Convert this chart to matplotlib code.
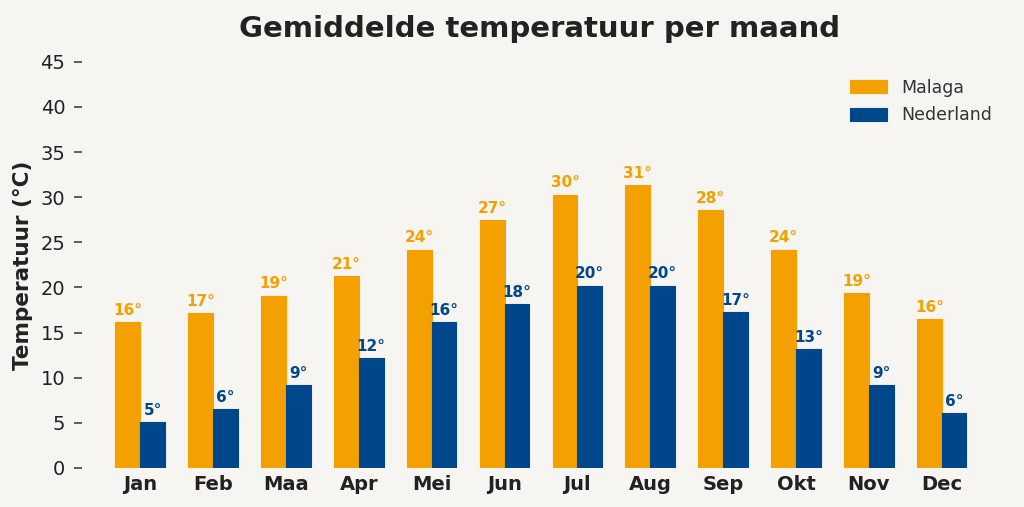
import matplotlib
matplotlib.use("Agg")
import matplotlib.pyplot as plt
import numpy as np

plt.rcParams["font.family"] = ["DejaVu Sans"]

months = ["Jan", "Feb", "Maa", "Apr", "Mei", "Jun", "Jul", "Aug", "Sep", "Okt", "Nov", "Dec"]
malaga = [16.2, 17.2, 19.1, 21.3, 24.2, 27.5, 30.3, 31.3, 28.6, 24.2, 19.4, 16.5]
nederland = [5.1, 6.5, 9.2, 12.2, 16.2, 18.2, 20.2, 20.2, 17.3, 13.2, 9.2, 6.1]
series_names = ["Malaga", "Nederland"]
yticks = [0, 5, 10, 15, 20, 25, 30, 35, 40, 45]

c_mal = "#F4A000"
c_ned = "#00468B"
bg = "#F7F5F1"
txt = "#222222"

fig = plt.figure(figsize=(10.24, 5.07), dpi=100, facecolor=bg)
ax = fig.add_axes([0.080, 0.077, 0.893, 0.801], facecolor=bg)

x = np.arange(len(months))
w = 0.34
b1 = ax.bar(x - w / 2, malaga, w, color=c_mal, label=series_names[0],
            edgecolor=c_mal, linewidth=0.8, joinstyle="round")
b2 = ax.bar(x + w / 2, nederland, w, color=c_ned, label=series_names[1],
            edgecolor=c_ned, linewidth=0.8, joinstyle="round")

for bars, vals, col in ((b1, malaga, c_mal), (b2, nederland, c_ned)):
    for r, v in zip(bars, vals):
        ax.annotate(f"{int(v)}°", (r.get_x() + r.get_width() / 2, v),
                    xytext=(0, 3), textcoords="offset points",
                    ha="center", va="bottom", fontsize=11, fontweight="bold", color=col)

ax.set_xlim(-0.8, 11.75)
ax.set_ylim(0, 45)
ax.set_yticks(yticks)
ax.set_yticklabels([str(t) for t in yticks])
ax.set_xticks(x)
ax.set_xticklabels(months, fontsize=14, fontweight="bold", color=txt)
ax.tick_params(axis="x", length=0, pad=5)
ax.tick_params(axis="y", length=6, width=1.2, color="#444444", labelsize=14, labelcolor=txt, pad=6)
for s in ax.spines.values():
    s.set_visible(False)

ax.set_ylabel("Temperatuur (°C)", fontsize=15.5, fontweight="bold", color=txt, labelpad=5)
ax.set_title("Gemiddelde temperatuur per maand", fontsize=21, fontweight="bold", color=txt, pad=18)

leg = ax.legend(loc="upper right", frameon=False, fontsize=12.5, handlelength=2.1,
                handleheight=0.8, labelspacing=0.55, bbox_to_anchor=(1.012, 0.997))
for t in leg.get_texts():
    t.set_color("#333333")

fig.savefig("out.png", dpi=100, facecolor=bg)
